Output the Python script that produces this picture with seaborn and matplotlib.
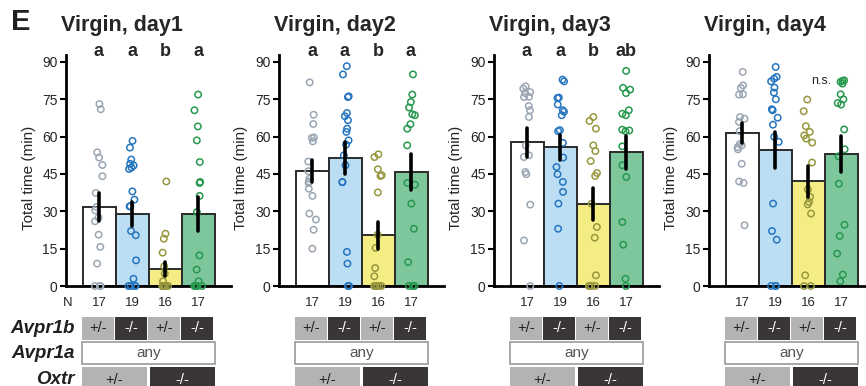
import numpy as np
import pandas as pd
import matplotlib
matplotlib.use("Agg")
import matplotlib.pyplot as plt
from matplotlib.patches import Rectangle
import seaborn as sns

# ---- data: total time (min) per animal, by genotype group ----
group_names = ["Avpr1b+/- Oxtr+/-", "Avpr1b-/- Oxtr+/-", "Avpr1b+/- Oxtr-/-", "Avpr1b-/- Oxtr-/-"]

day1_het_het = [73.1, 71.0, 53.7, 51.6, 48.6, 44.1, 37.4, 31.7, 30.4, 27.5, 26.0, 20.6, 15.7, 9.0, 0, 0, 0]
day1_ko_het = [58.3, 55.6, 50.8, 49.1, 48.4, 47.6, 47.0, 38.0, 34.7, 32.0, 32.0, 22.1, 20.4, 10.3, 2.9, 0, 0, 0, 0]
day1_het_ko = [42.0, 21.0, 19.0, 13.4, 7.9, 5.0, 1.9, 0, 0, 0, 0, 0, 0, 0, 0, 0]
day1_ko_ko = [76.9, 70.6, 64.1, 58.5, 49.8, 41.8, 41.4, 36.2, 29.7, 12.3, 6.6, 1.9, 0, 0, 0, 0, 0]

day2_het_het = [81.8, 68.8, 65.1, 59.7, 59.5, 58.1, 50.0, 46.1, 43.1, 42.0, 41.4, 39.1, 36.2, 29.1, 26.7, 22.6, 15.0]
day2_ko_het = [88.3, 85.0, 76.2, 75.9, 69.5, 68.2, 66.6, 63.2, 61.9, 58.5, 56.8, 52.5, 48.5, 41.8, 41.7, 13.7, 9.0, 0, 0]
day2_het_ko = [52.9, 51.8, 46.9, 44.5, 44.2, 37.6, 20.6, 15.3, 7.2, 3.9, 0, 0, 0, 0, 0, 0]
day2_ko_ko = [85.0, 76.9, 73.9, 71.7, 69.0, 68.6, 65.0, 63.2, 56.5, 41.4, 40.7, 33.1, 23.0, 9.6, 0, 0, 0]

day3_het_het = [80.2, 79.3, 77.9, 77.5, 76.0, 75.9, 72.3, 70.6, 67.9, 56.5, 52.5, 51.8, 45.8, 44.9, 32.7, 18.3, 0]
day3_ko_het = [82.9, 82.2, 75.7, 75.5, 72.9, 70.6, 70.0, 68.6, 62.6, 62.2, 57.5, 51.6, 47.8, 44.9, 41.8, 37.8, 33.1, 23.0, 0]
day3_het_ko = [67.9, 66.3, 63.2, 56.5, 54.2, 50.2, 45.4, 44.2, 33.1, 23.7, 19.4, 4.3, 0, 0, 0, 0]
day3_ko_ko = [86.4, 79.6, 78.9, 77.5, 70.6, 69.2, 68.6, 62.8, 62.5, 62.2, 56.1, 48.5, 43.8, 25.7, 16.6, 2.9, 0]

day4_het_het = [86.0, 80.6, 79.6, 77.0, 76.9, 67.9, 67.2, 65.9, 62.2, 57.0, 56.5, 55.8, 54.9, 49.1, 42.0, 41.4, 24.4]
day4_ko_het = [88.0, 84.0, 83.3, 82.2, 79.7, 77.7, 75.0, 71.0, 70.6, 67.6, 64.8, 59.9, 57.9, 33.1, 22.1, 18.6, 0, 0, 0]
day4_het_ko = [74.9, 70.2, 64.2, 61.9, 60.5, 59.2, 57.6, 49.6, 38.8, 35.8, 33.8, 32.8, 29.1, 4.3, 0, 0]
day4_ko_ko = [82.6, 82.4, 82.0, 81.3, 77.0, 75.0, 73.5, 72.9, 62.9, 54.9, 52.1, 41.1, 24.6, 20.1, 13.0, 4.6, 1.9]

titles = ["Virgin, day1", "Virgin, day2", "Virgin, day3", "Virgin, day4"]
sig_letters = [["a", "a", "b", "a"], ["a", "a", "b", "a"], ["a", "a", "b", "ab"], None]

avpr1b_labels = ["+/-", "-/-", "+/-", "-/-"]
oxtr_labels = ["+/-", "-/-"]
avpr1a_label = "any"

bar_colors = ["#ffffff", "#bcdef4", "#f3ed84", "#7ec69c"]
point_colors = ["#9ba6b4", "#2675bf", "#979740", "#27984f"]
cell_light = "#b3b3b3"
cell_dark = "#3a3636"
ink = "#231f20"

days = [
    [day1_het_het, day1_ko_het, day1_het_ko, day1_ko_ko],
    [day2_het_het, day2_ko_het, day2_het_ko, day2_ko_ko],
    [day3_het_het, day3_ko_het, day3_het_ko, day3_ko_ko],
    [day4_het_het, day4_ko_het, day4_het_ko, day4_ko_ko],
]

# ---- figure ----
sns.set_style("ticks")
plt.rcParams["font.family"] = ["Liberation Sans", "DejaVu Sans"]
np.random.seed(3)

W, H = 866, 386
fig = plt.figure(figsize=(W / 100, H / 100), dpi=100)

panel_left = [66, 279, 494, 709]
AX_W, AX_TOP, AX_BOT, TAB_TOP = 165, 55, 286, 292

fig.text(11 / W, 1 - 22 / H, "E", fontsize=21, fontweight="heavy", color=ink,
         ha="left", va="center")

for k, groups in enumerate(days):
    left = panel_left[k]
    ax = fig.add_axes([left / W, (H - AX_BOT) / H, AX_W / W, (AX_BOT - AX_TOP) / H])
    df = pd.DataFrame({
        "group": np.repeat(group_names, [len(g) for g in groups]),
        "time": np.concatenate(groups),
    })

    sns.barplot(data=df, x="group", y="time", hue="group", order=group_names,
                hue_order=group_names, palette=bar_colors, saturation=1,
                legend=False, errorbar="se", width=1.0, edgecolor="#2b2b2b",
                linewidth=1.4, err_kws={"color": "black", "linewidth": 2.6},
                capsize=0, ax=ax)
    n_before = len(ax.collections)
    sns.stripplot(data=df, x="group", y="time", hue="group", order=group_names,
                  hue_order=group_names, palette=point_colors, legend=False,
                  jitter=0.13, size=4.6, linewidth=1.1, ax=ax, zorder=4,
                  clip_on=False)
    # hollow circles
    for coll in ax.collections[n_before:]:
        fc = coll.get_facecolor()
        coll.set_edgecolor(fc)
        coll.set_facecolor("none")
        coll.set_linewidth(1.1)
    for ln in ax.lines:
        ln.set_zorder(6)

    ax.set_xlim(-1, 4)
    ax.set_ylim(0, 92.8)
    ax.set_yticks(range(0, 91, 15))
    ax.set_xticks([])
    ax.set_xlabel("")
    ax.set_ylabel("Total time (min)", fontsize=11)
    ax.yaxis.set_label_coords(-30.5 / AX_W, 0.467)
    for s in ["top", "right"]:
        ax.spines[s].set_visible(False)
    for s in ["left", "bottom"]:
        ax.spines[s].set_linewidth(2)
        ax.spines[s].set_color("black")
    ax.tick_params(axis="y", length=4, width=1.5, labelsize=10, pad=2, color="black")

    fig.text((left + 56) / W, 1 - 25 / H, titles[k], ha="center", va="center",
             fontsize=15.5, fontweight="bold")

    if sig_letters[k] is not None:
        for i, letter in enumerate(sig_letters[k]):
            ax.text(i, 1.013, letter, transform=ax.get_xaxis_transform(),
                    ha="center", va="center", fontsize=13, fontweight="bold")
    else:
        ax.text(2.4, 82.5, "n.s.", ha="center", va="center", fontsize=9)

    # ---- N and genotype table ----
    tax = fig.add_axes([left / W, 0, AX_W / W, (H - TAB_TOP) / H])
    tax.set_xlim(-1, 4)
    tax.set_ylim(H, TAB_TOP)
    tax.axis("off")

    for i, g in enumerate(groups):
        tax.text(i, 303, str(len(g)), ha="center", va="center", fontsize=9.5)

    for i, lab in enumerate(avpr1b_labels):
        dark = lab == "-/-"
        tax.add_patch(Rectangle((i - 0.515, 317), 0.97, 23,
                                facecolor=cell_dark if dark else cell_light,
                                edgecolor="none", clip_on=False))
        tax.text(i - 0.03, 328.5, lab, ha="center", va="center", fontsize=10.5,
                 color="white" if dark else ink, clip_on=False)

    tax.add_patch(Rectangle((-0.515, 342), 4.03, 22, facecolor="white",
                            edgecolor="#9a9a9a", linewidth=1.2, clip_on=False))
    tax.text(1.5, 353, avpr1a_label, ha="center", va="center", fontsize=11,
             color="#555555")

    for j, lab in enumerate(oxtr_labels):
        dark = lab == "-/-"
        x0 = -0.515 + j * 2.06
        tax.add_patch(Rectangle((x0, 367), 1.97, 26,
                                facecolor=cell_dark if dark else cell_light,
                                edgecolor="none", clip_on=False))
        tax.text(x0 + 0.985, 380, lab, ha="center", va="center", fontsize=10.5,
                 color="white" if dark else ink, clip_on=False)

    if k == 0:
        tax.text(-0.94, 303, "N", ha="center", va="center", fontsize=9.5)
        for y, name in [(328.5, "Avpr1b"), (353, "Avpr1a"), (379, "Oxtr")]:
            tax.text(-0.73, y, name, ha="right", va="center", fontsize=13.5,
                     fontweight="bold", fontstyle="italic", color=ink)

fig.savefig("out.png", dpi=100)
